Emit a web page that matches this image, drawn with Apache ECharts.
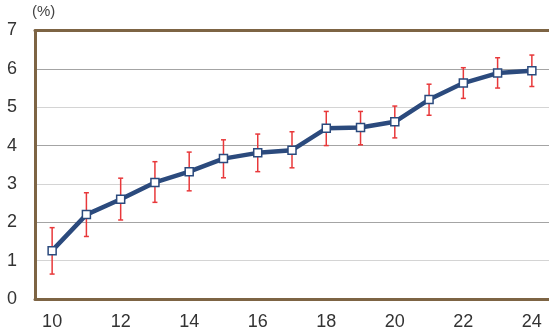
<!DOCTYPE html>
<html>
<head>
<meta charset="utf-8">
<script src="https://cdn.jsdelivr.net/npm/echarts@6/dist/echarts.min.js"></script>
<style>
  html, body { margin: 0; padding: 0; background: #fff; }
  #chart { width: 549px; height: 334px; }
</style>
</head>
<body>
<div id="chart"></div>
<script>
// Ages on the x axis
const categories = ['10','11','12','13','14','15','16','17','18','19','20','21','22','23','24'];
// Mean rate (%) per age
const values = [1.26, 2.20, 2.60, 3.04, 3.32, 3.66, 3.81, 3.88, 4.45, 4.47, 4.62, 5.20, 5.63, 5.89, 5.95];
// Error bar ends (%)
const lower = [0.65, 1.63, 2.06, 2.52, 2.82, 3.16, 3.32, 3.42, 4.00, 4.02, 4.20, 4.79, 5.23, 5.50, 5.54];
const upper = [1.86, 2.77, 3.15, 3.58, 3.83, 4.15, 4.30, 4.36, 4.89, 4.89, 5.03, 5.60, 6.03, 6.29, 6.36];
const yTicks = { min: 0, max: 7, interval: 1 };

const chart = echarts.init(document.getElementById('chart'));

const errorData = categories.map((c, i) => [i, lower[i], upper[i]]);
const frame = { color: '#7d6444', width: 3 };
const font = 'Liberation Sans, Arial, sans-serif';

chart.setOption({
  animation: false,
  grid: { left: 35, top: 30.5, bottom: 35, width: 516 },
  graphic: [{
    type: 'text', left: 32, top: 4,
    style: { text: '(%)', fontSize: 15, fill: '#444', fontFamily: font }
  }],
  xAxis: [
    {
      type: 'category',
      data: categories,
      boundaryGap: true,
      axisLine: { show: true, lineStyle: frame },
      axisTick: { show: false },
      axisLabel: { interval: 1, fontSize: 18, color: '#333', margin: 14, fontFamily: font }
    },
    {
      // top edge of the frame
      type: 'category',
      position: 'top',
      data: categories,
      axisLine: { show: true, lineStyle: frame },
      axisTick: { show: false },
      axisLabel: { show: false }
    }
  ],
  yAxis: {
    type: 'value',
    min: yTicks.min, max: yTicks.max, interval: yTicks.interval,
    axisLine: { show: true, lineStyle: frame },
    axisTick: { show: false },
    axisLabel: { fontSize: 18, color: '#333', margin: 18, fontFamily: font },
    splitLine: { lineStyle: { color: ['#a4a4a4', '#d4d4d4'], width: 1 } }
  },
  series: [
    {
      type: 'custom',
      z: 2,
      data: errorData,
      renderItem: function (params, api) {
        const x = api.value(0);
        const lo = api.coord([x, api.value(1)]);
        const hi = api.coord([x, api.value(2)]);
        const cap = 2.5;
        const style = { stroke: '#e8383a', lineWidth: 1.5, fill: null };
        return {
          type: 'group',
          children: [
            { type: 'line', shape: { x1: lo[0], y1: lo[1], x2: hi[0], y2: hi[1] }, style: style },
            { type: 'line', shape: { x1: lo[0] - cap, y1: lo[1], x2: lo[0] + cap, y2: lo[1] }, style: style },
            { type: 'line', shape: { x1: hi[0] - cap, y1: hi[1], x2: hi[0] + cap, y2: hi[1] }, style: style }
          ]
        };
      }
    },
    {
      type: 'line',
      z: 3,
      data: values,
      lineStyle: { color: '#2b4a7d', width: 4.5 },
      symbol: 'rect',
      symbolSize: 8,
      itemStyle: { color: '#ffffff', borderColor: '#2b4a7d', borderWidth: 1.5 }
    }
  ]
});
</script>
</body>
</html>
